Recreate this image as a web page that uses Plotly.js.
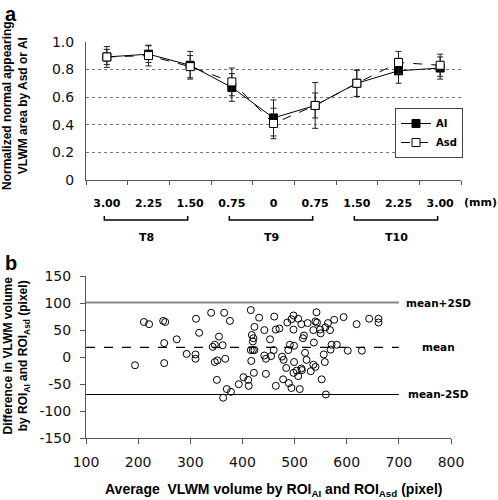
<!DOCTYPE html>
<html>
<head>
<meta charset="utf-8">
<script src="https://cdn.plot.ly/plotly-3.0.1.min.js"></script>
<style>html,body{margin:0;padding:0;background:#fff;}#chart{width:498px;height:500px;}</style>
</head>
<body>
<div id="chart"></div>
<script>
// ---- Panel a data ----
const positions = ['3.00','2.25','1.50','0.75','0','0.75','1.50','2.25','3.00'];
const aiMean  = [0.89, 0.91, 0.83, 0.67, 0.45, 0.54, 0.70, 0.79, 0.81];
const aiErr   = [0.055,0.06, 0.10, 0.10, 0.13, 0.09, 0.095,0.09, 0.08];
const asdMean = [0.89, 0.90, 0.82, 0.71, 0.41, 0.54, 0.70, 0.85, 0.83];
const asdErr  = [0.075,0.075,0.08, 0.10, 0.11, 0.165,0.095,0.08, 0.08];
const groupNames = ['T8','T9','T10'];
const groupFirst = [0, 3, 6];
const groupLast  = [2, 5, 8];
const yTicksA = [0, 0.2, 0.4, 0.6, 0.8, 1.0];
const yTickTextA = ['0','0.2','0.4','0.6','0.8','1.0'];

// ---- Panel b data ----
const avgVol = [194,211,221,248,252,250,250,274,293,310,310,311,317,340,343,347,347,352,351,355,362,365,367,370,363,378,376,393,402,411,412,416,418,420,421,416,420,423,417,423,422,432,442,442,445,445,453,455,460,461,464,464,471,476,479,478,484,486,488,489,491,494,494,498,498,499,499,498,504,507,507,510,513,514,513,516,518,520,523,525,531,536,537,536,540,540,542,543,549,550,552,556,558,560,559,564,568,569,571,576,581,594,602,619,629,643,661,661];
const diffVol = [-15,65,61,67,65,26,-11,33,6,5,-3,71,45,82,19,23,-9,-6,-42,38,22,82,-3,-59,-75,-64,67,-50,-37,-42,-53,87,41,29,35,13,13,13,-7,56,-29,73,50,3,-3,-31,33,2,13,75,-53,51,53,1,-5,-41,-20,64,13,-48,23,-57,70,77,51,21,-9,-29,-25,-35,71,-59,-21,-24,61,35,40,8,-5,63,-26,50,27,-14,-18,66,83,64,51,44,-41,5,-9,-69,55,63,50,14,23,69,23,74,12,61,12,71,71,64];
const refNames  = ['mean+2SD','mean','mean-2SD'];
const refValues = [101, 18, -69];
const xRangeB = [100, 700];
const yTicksB = [-150,-100,-50,0,50,100,150];
const yTickTextB = ['-150','-100','-50','0','50','100','150'];
const xTicksB = [100,200,300,400,500,600,700,800];

const FONT = 'DejaVu Sans, Arial, sans-serif';
const idx = positions.map((_, i) => i);

const traces = [
  {
    x: idx, y: aiMean, name: 'AI', type: 'scatter', mode: 'lines+markers',
    xaxis: 'x', yaxis: 'y',
    line: {color: '#000', width: 1},
    marker: {symbol: 'square', size: 8, color: '#000', line: {color: '#000', width: 1}},
    error_y: {type: 'data', array: aiErr, visible: true, color: '#222', thickness: 1, width: 3}
  },
  {
    x: idx, y: asdMean, name: 'Asd', type: 'scatter', mode: 'lines+markers',
    xaxis: 'x', yaxis: 'y',
    line: {color: '#000', width: 1, dash: 'dash'},
    marker: {symbol: 'square', size: 8, color: '#fff', line: {color: '#000', width: 1}},
    error_y: {type: 'data', array: asdErr, visible: true, color: '#222', thickness: 1, width: 3}
  },
  {
    x: avgVol, y: diffVol, type: 'scatter', mode: 'markers', showlegend: false,
    xaxis: 'x2', yaxis: 'y2',
    marker: {symbol: 'circle-open', size: 7, color: '#000', line: {width: 1}}
  }
];
// reference lines in panel b
const refStyles = [{color: '#888', width: 2, dash: 'solid'}, {color: '#000', width: 1.2, dash: 'dash'}, {color: '#000', width: 1.2, dash: 'solid'}];
refValues.forEach((v, i) => {
  traces.push({x: xRangeB, y: [v, v], type: 'scatter', mode: 'lines', showlegend: false, hoverinfo: 'skip',
    xaxis: 'x2', yaxis: 'y2', line: refStyles[i]});
});

const annotations = [
  {text: '<b>a</b>', xref: 'paper', yref: 'paper', x: 0.006, y: 0.999, xanchor: 'left', yanchor: 'top', showarrow: false, font: {family: 'Liberation Sans, Arial', size: 20, color: '#000'}},
  {text: '<b>b</b>', xref: 'paper', yref: 'paper', x: 0.006, y: 0.501, xanchor: 'left', yanchor: 'top', showarrow: false, font: {family: 'Liberation Sans, Arial', size: 20, color: '#000'}},
  {text: 'Normalized normal appearing<br>VLWM area by Asd or AI', xref: 'paper', yref: 'paper', x: 15/498, y: 1 - 106/500, textangle: -90, showarrow: false, xanchor: 'center', yanchor: 'middle', font: {family: 'Liberation Sans, Arial', size: 12, color: '#000', weight: 'bold'}},
  {text: 'Difference in VLWM volume<br>by ROI<sub>AI</sub> and ROI<sub>Asd</sub> (pixel)', xref: 'paper', yref: 'paper', x: 15.5/498, y: 1 - 356/500, textangle: -90, showarrow: false, xanchor: 'center', yanchor: 'middle', font: {family: 'Liberation Sans, Arial', size: 12, color: '#000', weight: 'bold'}},
  {text: 'Average  VLWM volume by ROI<sub>AI</sub> and ROI<sub>Asd</sub> (pixel)', xref: 'paper', yref: 'paper', x: 273/498, y: 1 - 490/500, showarrow: false, xanchor: 'center', yanchor: 'middle', font: {family: 'Liberation Sans, Arial', size: 14, color: '#000', weight: 'bold'}},
  {text: '(mm)', xref: 'paper', yref: 'paper', x: 480/498, y: 1 - 202/500, showarrow: false, xanchor: 'center', yanchor: 'middle', font: {family: FONT, size: 11, color: '#000', weight: 'bold'}}
];
const shapes = [];
groupNames.forEach((g, i) => {
  const x0 = groupFirst[i] - 0.06, x1 = groupLast[i] - 0.06;
  shapes.push({type: 'path', xref: 'x', yref: 'paper',
    path: `M ${x0} ${1 - 216/500} L ${x0} ${1 - 220/500} L ${x1} ${1 - 220/500} L ${x1} ${1 - 216/500}`,
    line: {color: '#000', width: 1.5}});
  annotations.push({text: g, xref: 'x', yref: 'paper', x: (groupFirst[i] + groupLast[i]) / 2 - 0.06, y: 1 - 237/500, showarrow: false, xanchor: 'center', yanchor: 'middle', font: {family: FONT, size: 11, color: '#000', weight: 'bold'}});
});
refNames.forEach((n, i) => {
  annotations.push({text: n, xref: 'paper', yref: 'y2', x: 438/498, y: refValues[i], showarrow: false, xanchor: 'center', yanchor: 'middle', font: {family: FONT, size: 10.5, color: '#000', weight: 'bold'}});
});

const layout = {
  width: 498, height: 500,
  margin: {l: 0, r: 0, t: 0, b: 0},
  paper_bgcolor: '#fff', plot_bgcolor: 'rgba(0,0,0,0)',
  showlegend: true,
  legend: {x: 463/498, y: 1 - 108/500, xanchor: 'right', yanchor: 'top', bgcolor: '#fff', bordercolor: '#444', borderwidth: 1,
    font: {family: FONT, size: 10, color: '#000', weight: 'bold'}, itemwidth: 30, tracegroupgap: 0},
  xaxis: {domain: [86/498, 461/498], range: [-0.5, 8.5], tickmode: 'array', tickvals: idx, ticktext: positions,
    ticks: '', showgrid: false, zeroline: false, showline: true, linecolor: '#555', linewidth: 1,
    ticklabelstandoff: 12,
    tickfont: {family: FONT, size: 11, color: '#000', weight: 'bold'},
    minor: {tickmode: 'linear', tick0: -0.5, dtick: 1, ticks: 'outside', ticklen: 4, tickcolor: '#555', showgrid: false},
    fixedrange: true},
  yaxis: {domain: [1 - 180.3/500, 1 - 41.7/500], range: [0, 1.0], tickmode: 'array', tickvals: yTicksA, ticktext: yTickTextA,
    showgrid: true, gridcolor: '#777', griddash: 'dot', gridwidth: 1, zeroline: false, showline: true, linecolor: '#555', linewidth: 1,
    ticks: '', ticklabelstandoff: 8, tickfont: {family: FONT, size: 14, color: '#111'}, fixedrange: true},
  xaxis2: {domain: [86/498, 451/498], range: [100, 800], anchor: 'y2', tickmode: 'array', tickvals: xTicksB,
    ticks: 'outside', ticklen: 5, tickcolor: '#555', showgrid: false, zeroline: false, showline: true, linecolor: '#555', linewidth: 1,
    ticklabelstandoff: 6, tickfont: {family: FONT, size: 14, color: '#111'}, fixedrange: true},
  yaxis2: {domain: [1 - 438.3/500, 1 - 276/500], range: [-150, 150], anchor: 'x2', tickmode: 'array', tickvals: yTicksB, ticktext: yTickTextB,
    ticks: 'outside', ticklen: 5, tickcolor: '#555', showgrid: false, zeroline: false, showline: true, linecolor: '#555', linewidth: 1,
    ticklabelstandoff: 6, tickfont: {family: FONT, size: 14, color: '#111'}, fixedrange: true},
  annotations: annotations,
  shapes: shapes
};

Plotly.newPlot('chart', traces, layout, {displayModeBar: false, staticPlot: true});
</script>
</body>
</html>
